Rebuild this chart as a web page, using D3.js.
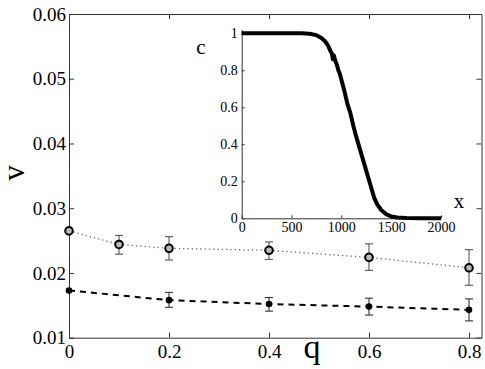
<!DOCTYPE html>
<html>
<head>
<meta charset="utf-8">
<script src="https://cdn.jsdelivr.net/npm/d3@7"></script>
<style>
  body { margin: 0; background: #fff; }
  svg { display: block; }
  svg text { font-family: "Liberation Serif", "Times New Roman", serif; }
</style>
</head>
<body>
<svg id="chart" width="485" height="369"></svg>
<script>
// main plot: open circles (dotted) and filled dots (dashed)
const qOpen = [0, 0.1, 0.2, 0.4, 0.6, 0.8]
const vOpen = [0.0265, 0.0244, 0.0238, 0.0235, 0.0224, 0.0208]
const loOpen = [null, 0.0229, 0.0220, 0.0221, 0.0204, 0.0181]
const hiOpen = [null, 0.0258, 0.0256, 0.0248, 0.0245, 0.0236]

const qFilled = [0, 0.2, 0.4, 0.6, 0.8]
const vFilled = [0.0173, 0.0158, 0.0152, 0.0148, 0.0143]
const loFilled = [null, 0.0147, 0.0141, 0.0135, 0.0126]
const hiFilled = [null, 0.0170, 0.0162, 0.0161, 0.0160]

const qTicks = [0, 0.2, 0.4, 0.6, 0.8]
const vTicks = [0.01, 0.02, 0.03, 0.04, 0.05, 0.06]

// inset: profile c(x)
const insetX = [0, 200, 400, 600, 680, 750, 800, 840, 870, 890, 905, 915, 925, 940, 955, 970, 985, 1000, 1030, 1060, 1090, 1120, 1150, 1180, 1210, 1240, 1270, 1300, 1330, 1360, 1400, 1450, 1500, 1560, 1650, 1800, 2000]
const insetC = [1, 1, 1, 1, 0.998, 0.99, 0.975, 0.955, 0.93, 0.905, 0.89, 0.86, 0.88, 0.85, 0.83, 0.8, 0.78, 0.75, 0.69, 0.62, 0.57, 0.5, 0.44, 0.385, 0.33, 0.275, 0.22, 0.165, 0.11, 0.075, 0.045, 0.022, 0.01, 0.004, 0.001, 0, 0]
const xTicksInset = [0, 500, 1000, 1500, 2000]
const cTicksInset = [0, 0.2, 0.4, 0.6, 0.8, 1]

const svg = d3.select('#chart')
const axisColor = '#333'

// ---- main plot ----
const mLeft = 69, mRight = 481.5, mTop = 14, mBottom = 337.7
const xScale = d3.scaleLinear().domain([0, 0.825]).range([mLeft, mRight])
const yScale = d3.scaleLinear().domain([0.01, 0.06]).range([mBottom, mTop])

const fmt = d => d === 0 ? '0' : String(d)

const styleAxis = (g, size) => {
    g.selectAll('path').attr('stroke', axisColor)
    g.selectAll('line').attr('stroke', axisColor)
    g.selectAll('text').attr('fill', '#000').style('font-size', size + 'px')
}

svg.append('g')
    .attr('transform', `translate(0,${mBottom})`)
    .call(d3.axisBottom(xScale).tickValues(qTicks).tickFormat(fmt).tickSizeInner(-5).tickSizeOuter(0).tickPadding(7))
    .call(g => styleAxis(g, 19))

svg.append('g')
    .attr('transform', `translate(0,${mTop})`)
    .call(d3.axisTop(xScale).tickValues(qTicks).tickFormat('').tickSizeInner(-5).tickSizeOuter(0))
    .call(g => styleAxis(g, 19))

svg.append('g')
    .attr('transform', `translate(${mLeft},0)`)
    .call(d3.axisLeft(yScale).tickValues(vTicks).tickFormat(d3.format('.2f')).tickSizeInner(-5).tickSizeOuter(0).tickPadding(3))
    .call(g => styleAxis(g, 19))

svg.append('g')
    .attr('transform', `translate(${mRight},0)`)
    .call(d3.axisRight(yScale).tickValues(vTicks).tickFormat('').tickSizeInner(-5).tickSizeOuter(0))
    .call(g => styleAxis(g, 19))

// error bars
function errorBars(qs, lo, hi, color) {
    const g = svg.append('g').attr('stroke', color).attr('stroke-width', 1.1)
    qs.forEach((q, i) => {
        if (lo[i] == null) return
        const x = xScale(q)
        g.append('line').attr('x1', x).attr('x2', x).attr('y1', yScale(lo[i])).attr('y2', yScale(hi[i]))
        g.append('line').attr('x1', x - 4).attr('x2', x + 4).attr('y1', yScale(lo[i])).attr('y2', yScale(lo[i]))
        g.append('line').attr('x1', x - 4).attr('x2', x + 4).attr('y1', yScale(hi[i])).attr('y2', yScale(hi[i]))
    })
}
errorBars(qOpen, loOpen, hiOpen, '#555')
errorBars(qFilled, loFilled, hiFilled, '#333')

const line = d3.line().x(d => xScale(d[0])).y(d => yScale(d[1]))

svg.append('path')
    .datum(qOpen.map((q, i) => [q, vOpen[i]]))
    .attr('d', line)
    .attr('fill', 'none')
    .attr('stroke', '#666')
    .attr('stroke-width', 1.3)
    .attr('stroke-dasharray', '1.3,3')

svg.append('path')
    .datum(qFilled.map((q, i) => [q, vFilled[i]]))
    .attr('d', line)
    .attr('fill', 'none')
    .attr('stroke', '#000')
    .attr('stroke-width', 2)
    .attr('stroke-dasharray', '6,5')

svg.append('g').selectAll('circle')
    .data(qOpen)
    .join('circle')
    .attr('cx', d => xScale(d))
    .attr('cy', (d, i) => yScale(vOpen[i]))
    .attr('r', 3.8)
    .attr('fill', '#bbb')
    .attr('stroke', '#000')
    .attr('stroke-width', 2)

svg.append('g').selectAll('circle')
    .data(qFilled)
    .join('circle')
    .attr('cx', d => xScale(d))
    .attr('cy', (d, i) => yScale(vFilled[i]))
    .attr('r', 3.3)
    .attr('fill', '#000')

svg.append('text')
    .text('q')
    .attr('x', 312)
    .attr('y', 358)
    .attr('text-anchor', 'middle')
    .style('font-size', '34px')

svg.append('text')
    .text('v')
    .attr('transform', 'translate(24,173) rotate(-90)')
    .attr('text-anchor', 'middle')
    .style('font-size', '31px')

// ---- inset ----
const ix = d3.scaleLinear().domain([0, 2000]).range([241.7, 441])
const iy = d3.scaleLinear().domain([0, 1.02]).range([218.3, 29.6])

svg.append('g')
    .attr('transform', `translate(0,${iy(0)})`)
    .call(d3.axisBottom(ix).tickValues(xTicksInset).tickFormat(d => d).tickSizeInner(-3).tickSizeOuter(0).tickPadding(4))
    .call(g => styleAxis(g, 14))

svg.append('g')
    .attr('transform', `translate(${ix(0)},0)`)
    .call(d3.axisLeft(iy).tickValues(cTicksInset).tickFormat(fmt).tickSizeInner(-3).tickSizeOuter(0).tickPadding(4))
    .call(g => styleAxis(g, 14))

svg.append('path')
    .datum(insetX.map((x, i) => [x, insetC[i]]))
    .attr('d', d3.line().x(d => ix(d[0])).y(d => iy(d[1])))
    .attr('fill', 'none')
    .attr('stroke', '#000')
    .attr('stroke-width', 4)
    .attr('stroke-linejoin', 'round')

svg.append('text')
    .text('c')
    .attr('x', 201)
    .attr('y', 54)
    .attr('text-anchor', 'middle')
    .style('font-size', '21px')

svg.append('text')
    .text('x')
    .attr('x', 459)
    .attr('y', 208)
    .attr('text-anchor', 'middle')
    .style('font-size', '21px')
</script>
</body>
</html>
